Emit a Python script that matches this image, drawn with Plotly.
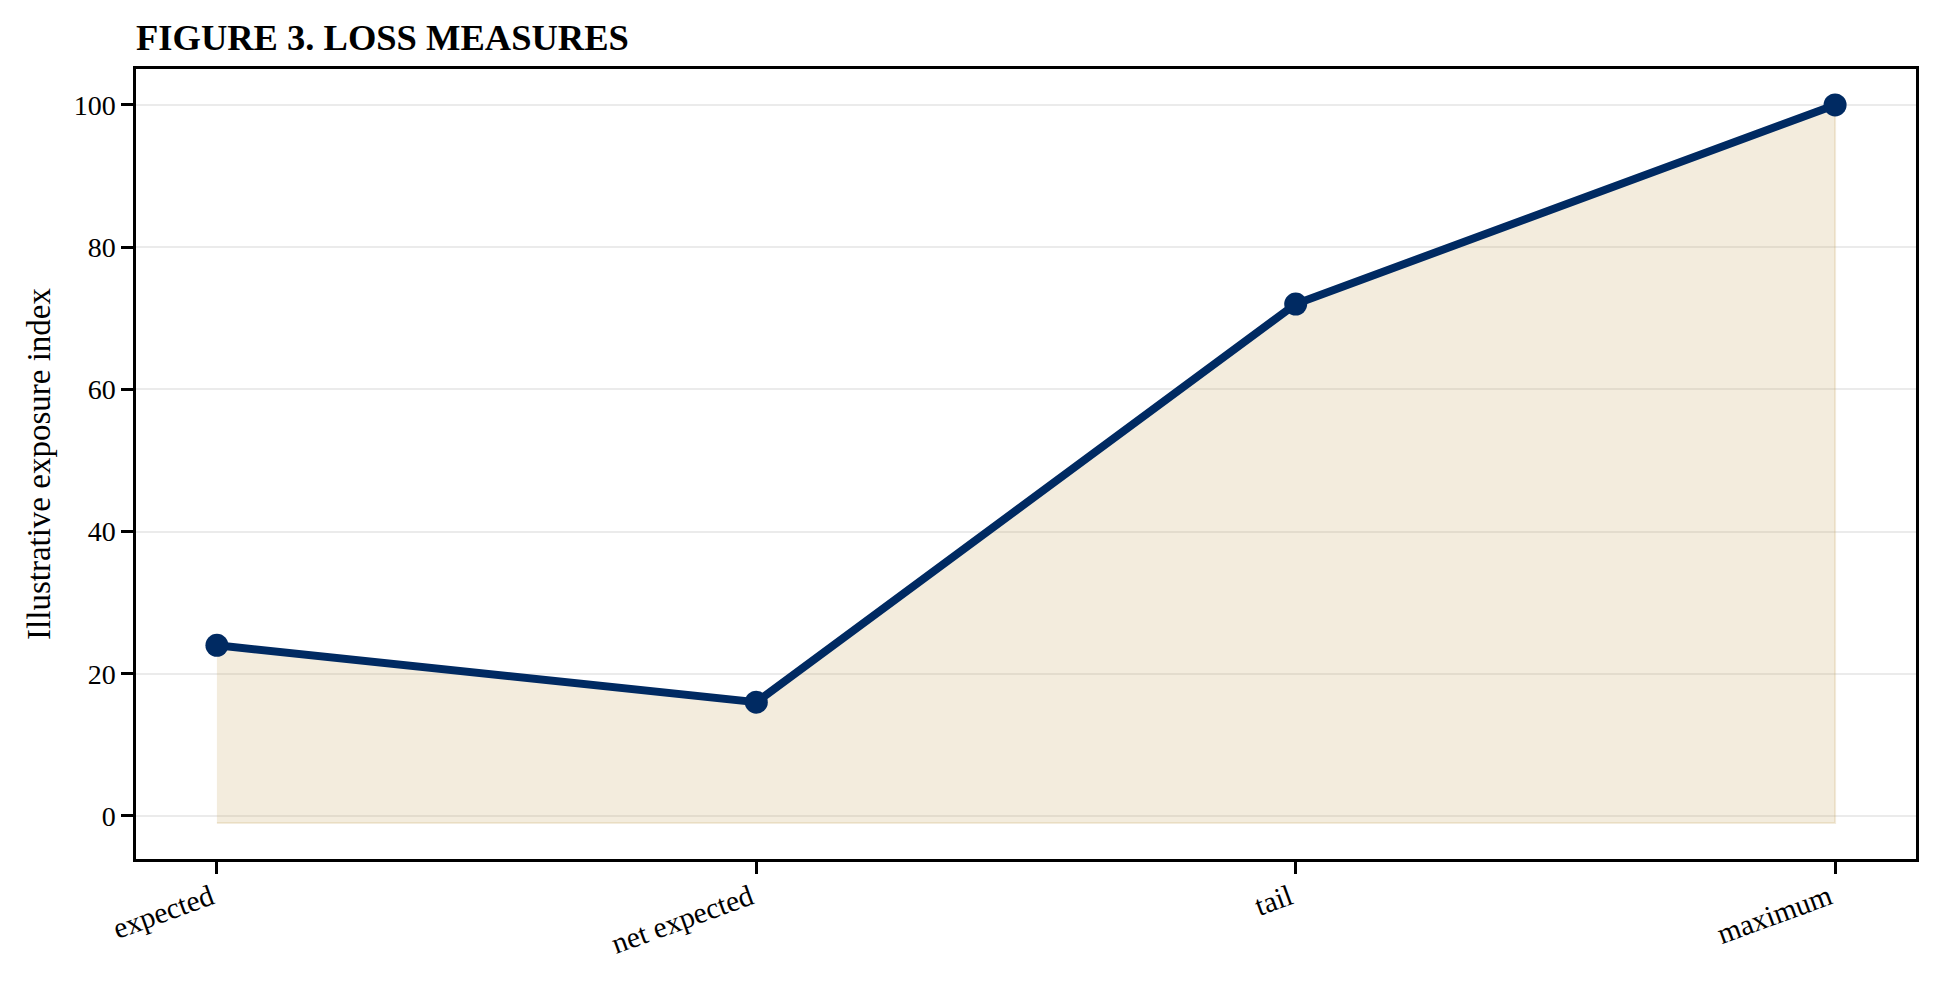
import plotly.graph_objects as go

# Loss measures (illustrative exposure index)
categories = ['expected', 'net expected', 'tail', 'maximum']
exposure = [24, 16, 72, 100]
fill_floor = -1
y_ticks = [0, 20, 40, 60, 80, 100]

NAVY = '#002A62'
SAND = 'rgba(201,169,98,0.22)'
FONT = 'Liberation Serif'

xpos = list(range(len(categories)))

fig = go.Figure()

# shaded area under the curve (closed polygon, edge drawn like matplotlib)
fig.add_trace(go.Scatter(
    x=xpos + xpos[::-1],
    y=exposure + [fill_floor] * len(xpos),
    fill='toself',
    fillcolor=SAND,
    mode='lines',
    line=dict(color=SAND, width=2),
    hoverinfo='skip',
    showlegend=False,
))

fig.add_trace(go.Scatter(
    x=xpos,
    y=exposure,
    mode='lines+markers',
    line=dict(color=NAVY, width=8),
    marker=dict(color=NAVY, size=23),
    showlegend=False,
))

# page body has an 8px margin, so the figure is shifted; compensate here
fig.update_layout(
    width=1931,
    height=975,
    margin=dict(l=128, r=23, t=61, b=124),
    paper_bgcolor='white',
    plot_bgcolor='white',
    font=dict(family=FONT, color='black', size=28),
    title=dict(
        text='<b>FIGURE 3. LOSS MEASURES</b>',
        font=dict(family=FONT, size=36.5, color='black'),
        xref='paper', x=0, xanchor='left',
        yref='paper', y=1, yanchor='bottom',
        pad=dict(b=19),
    ),
)

fig.update_xaxes(
    range=[-0.15, len(categories) - 1 + 0.15],
    tickmode='array',
    tickvals=xpos,
    ticktext=categories,
    tickangle=-20,
    showgrid=False,
    zeroline=False,
    showline=True, linecolor='black', linewidth=2.5, mirror=True,
    ticks='outside', ticklen=12, tickwidth=2.5, tickcolor='black',
    tickfont=dict(family=FONT, size=29.5),
    ticklabelstandoff=-5,
    ticklabelshift=-6,
)

fig.update_yaxes(
    range=[-6.05, 105.05],
    tickmode='array',
    tickvals=y_ticks,
    showgrid=True, gridcolor='#EBEBEB', gridwidth=2,
    zeroline=False,
    showline=True, linecolor='black', linewidth=2.5, mirror=True,
    ticks='outside', ticklen=12, tickwidth=2.5, tickcolor='black',
    tickfont=dict(family=FONT, size=28),
    title=dict(text='Illustrative exposure index', font=dict(family=FONT, size=33), standoff=14),
)

fig.write_html('out.html')
